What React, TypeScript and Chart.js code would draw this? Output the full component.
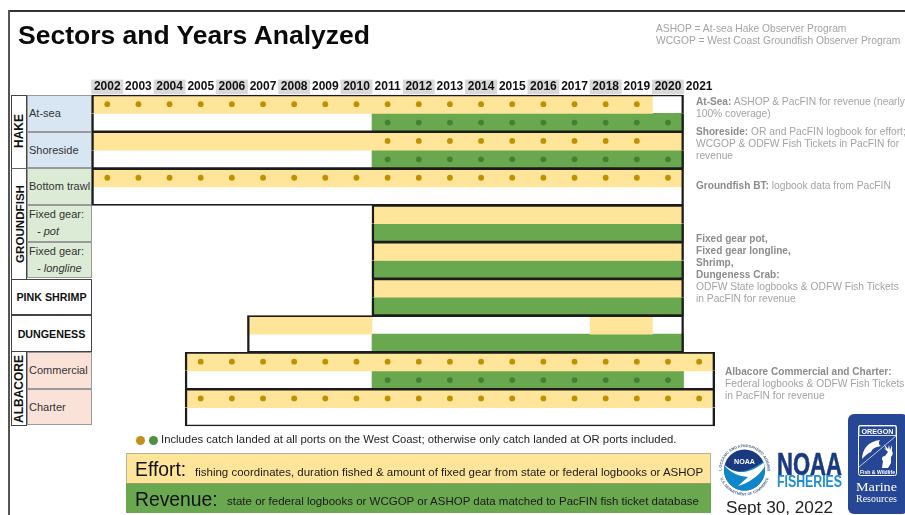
import React, { useEffect, useRef } from "react";
import { Chart, registerables } from "chart.js";

Chart.register(...registerables);

type Span = [number, number] | null;

const years = [2002, 2003, 2004, 2005, 2006, 2007, 2008, 2009, 2010, 2011, 2012, 2013, 2014, 2015, 2016, 2017, 2018, 2019, 2020, 2021];
const allRows = ["At-sea", "Shoreside", "Bottom trawl", "Fixed gear pot", "Fixed gear longline", "Pink shrimp", "Dungeness", "Commercial", "Charter"];

// [first year edge, last year edge), per fishery
const effortSpans: Span[] = [[2002, 2020], [2002, 2021], [2002, 2021], [2011, 2021], [2011, 2021], [2011, 2021], [2007, 2011], [2005, 2022], [2005, 2022]];
const effortExtra: Span[] = [null, null, null, null, null, null, [2018, 2020], null, null];
const revenueSpans: Span[] = [[2011, 2021], [2011, 2021], null, [2011, 2021], [2011, 2021], [2011, 2021], [2011, 2021], [2011, 2021], null];
const boxSpans: Span[] = [[2002, 2021], [2002, 2021], [2002, 2021], [2011, 2021], [2011, 2021], [2011, 2021], [2007, 2021], [2005, 2022], [2005, 2022]];
// first and last year carrying an "all ports" dot
const effortDots: Span[] = [[2002, 2019], [2011, 2019], [2002, 2020], null, null, null, null, [2005, 2021], [2005, 2021]];
const revenueDots: Span[] = [[2011, 2020], [2011, 2020], null, null, null, null, null, [2011, 2020], null];

const bands = allRows.flatMap((r) => [r + " effort", r + " revenue"]);

const YELLOW = "#ffe599";
const GREEN = "#6aa84f";
const DOT_Y = "#bf9000";
const DOT_G = "#457f32";
const LINE = "#1c1c1c";

const HEADER_H = 95;
const PLOT_LEFT = 91.7;
const PLOT_RIGHT = 714.7;
const PLOT_BOTTOM = 426;

function bandValues(spans: Span[], offset: number) {
  const out: Span[] = bands.map(() => null);
  spans.forEach((s, i) => {
    out[i * 2 + offset] = s;
  });
  return out;
}

function dotPoints(spans: Span[], offset: number) {
  const pts: { x: number; y: string }[] = [];
  spans.forEach((s, i) => {
    if (!s) return;
    years.filter((yr) => yr >= s[0] && yr <= s[1]).forEach((yr) => pts.push({ x: yr + 0.5, y: bands[i * 2 + offset] }));
  });
  return pts;
}

const FONT = '"Liberation Sans", Arial, sans-serif';

function T(props: { x: number; y: number; size?: number; color?: string; w?: number; children: React.ReactNode; style?: React.CSSProperties }) {
  const { x, y, size = 10.25, color = "#a3a3a3", w, children, style } = props;
  return (
    <div
      style={{
        position: "absolute",
        left: x,
        top: y - size * 0.6,
        fontSize: size,
        lineHeight: `${size * 1.2}px`,
        color,
        whiteSpace: "nowrap",
        width: w,
        ...style,
      }}
    >
      {children}
    </div>
  );
}

const B = (p: { children: React.ReactNode }) => <b style={{ color: "#8c8c8c", fontSize: 10.1 }}>{p.children}</b>;

function Cell(p: { x: number; y: number; w: number; h: number; bg: string; border?: string; children?: React.ReactNode }) {
  return (
    <div
      style={{
        position: "absolute",
        left: p.x,
        top: p.y,
        width: p.w,
        height: p.h,
        background: p.bg,
        boxSizing: "border-box",
        border: `1px solid ${p.border ?? "#9a9a9a"}`,
      }}
    >
      {p.children}
    </div>
  );
}

function Vert(p: { y: number; h: number; text: string; size?: number }) {
  return (
    <div
      style={{
        position: "absolute",
        left: 11,
        top: p.y,
        width: 16,
        height: p.h,
        display: "flex",
        alignItems: "center",
        justifyContent: "center",
      }}
    >
      <span style={{ writingMode: "vertical-rl", transform: "rotate(180deg)", fontWeight: 700, fontSize: p.size ?? 12, color: "#111" }}>{p.text}</span>
    </div>
  );
}

function Logos() {
  return (
    <svg width={905} height={515} style={{ position: "absolute", left: 0, top: 0 }} fontFamily={FONT}>
      <defs>
        <path id="ringTop" d="M 721.5 470 A 23 23 0 0 1 767.5 470" />
        <path id="ringBottom" d="M 719 470 A 25.5 25.5 0 0 0 770 470" />
        <clipPath id="inner">
          <circle cx={744.5} cy={470} r={20.5} />
        </clipPath>
      </defs>
      <text fontSize={3.7} fill="#47618f" fontWeight={700}>
        <textPath href="#ringTop" startOffset="50%" textAnchor="middle">NATIONAL OCEANIC AND ATMOSPHERIC ADMINISTRATION</textPath>
      </text>
      <text fontSize={3.7} fill="#47618f" fontWeight={700}>
        <textPath href="#ringBottom" startOffset="50%" textAnchor="middle">U.S. DEPARTMENT OF COMMERCE</textPath>
      </text>
      <circle cx={744.5} cy={470} r={20.5} fill="#1a3a80" />
      <g clipPath="url(#inner)">
        <path d="M 722 462 C 732 474 745 476 768 458 L 768 492 L 722 492 Z" fill="#0f86c9" />
        <path d="M 722 462 C 732 474 748 478 769 458 C 764 472 752 482 738 486 L 748 477 C 738 476 728 472 722 462 Z" fill="#ffffff" />
      </g>
      <text x={744.5} y={464} textAnchor="middle" fontSize={8} fontWeight={700} fill="#fff" textLength={21} lengthAdjust="spacingAndGlyphs">NOAA</text>
      <text x={777} y={475} fontSize={32} fontWeight={700} fill="#1a3a80" stroke="#1a3a80" strokeWidth={0.6} textLength={65} lengthAdjust="spacingAndGlyphs">NOAA</text>
      <text x={777} y={487} fontSize={16} fontWeight={700} fill="#1d8fd1" textLength={65} lengthAdjust="spacingAndGlyphs">FISHERIES</text>

      <rect x={848} y={414} width={60} height={100} rx={6} fill="#264796" />
      <rect x={858.5} y={425.5} width={38} height={50} rx={2} fill="none" stroke="#fff" strokeWidth={1} />
      <rect x={859} y={426} width={37} height={9.5} fill="none" stroke="#fff" strokeWidth={0.8} />
      <text x={877.5} y={434} textAnchor="middle" fontSize={8} fontWeight={700} fill="#fff" textLength={32} lengthAdjust="spacingAndGlyphs">OREGON</text>
      <line x1={859} y1={467} x2={896} y2={436} stroke="#fff" strokeWidth={0.7} />
      <path d="M 862 459 C 862 450 868 441 880 440 C 878 443 879 445 881 446 C 875 447 872 449 871 452 C 868 453 865 456 862 459 Z" fill="#fff" />
      <path d="M 882 468 L 883 461 C 881 459 882 456 885 456 L 888 452 L 884 448 L 886 449 L 884 444 L 888 449 L 889 445 L 890 450 L 892 445 L 892 451 C 893 453 893 455 891 457 L 891 463 L 888 468 Z" fill="#fff" />
      <text x={877.5} y={474} textAnchor="middle" fontSize={5.6} fontWeight={700} fill="#fff" textLength={35} lengthAdjust="spacingAndGlyphs">Fish &amp; Wildlife</text>
      <text x={876.5} y={491} textAnchor="middle" fontSize={13} fill="#fff" fontFamily='"Liberation Serif", serif' textLength={41} lengthAdjust="spacingAndGlyphs">Marine</text>
      <text x={876.5} y={502} textAnchor="middle" fontSize={9.5} fill="#fff" fontFamily='"Liberation Serif", serif' textLength={41} lengthAdjust="spacingAndGlyphs">Resources</text>
    </svg>
  );
}

export default function App() {
  const ref = useRef<HTMLCanvasElement>(null);

  useEffect(() => {
    const canvas = ref.current;
    if (!canvas) return;
    const fill = { grouped: false, categoryPercentage: 1, barPercentage: 1, borderWidth: 0, order: 3 };
    const chart = new Chart(canvas, {
      type: "bar",
      data: {
        labels: bands,
        datasets: [
          { ...fill, label: "Effort", data: bandValues(effortSpans, 0), backgroundColor: YELLOW },
          { ...fill, label: "Effort (later years)", data: bandValues(effortExtra, 0), backgroundColor: YELLOW },
          { ...fill, label: "Revenue", data: bandValues(revenueSpans, 1), backgroundColor: GREEN },
          {
            grouped: false,
            categoryPercentage: 1,
            barPercentage: 1,
            order: 2,
            label: "Sector box",
            data: bands.map((_, i) => boxSpans[Math.floor(i / 2)]),
            backgroundColor: "rgba(0,0,0,0)",
            borderColor: LINE,
            borderSkipped: false,
            clip: false,
            borderWidth: (c: any) =>
              c.dataIndex % 2 === 0 ? { top: 1, left: 1.7, right: 1.7, bottom: 0 } : { top: 0, left: 1.7, right: 1.7, bottom: 1 },
          },
          {
            type: "scatter",
            indexAxis: "x",
            order: 1,
            label: "All ports (effort)",
            data: dotPoints(effortDots, 0),
            backgroundColor: DOT_Y,
            borderWidth: 0,
            pointRadius: 2.9,
          },
          {
            type: "scatter",
            indexAxis: "x",
            order: 1,
            label: "All ports (revenue)",
            data: dotPoints(revenueDots, 1),
            backgroundColor: DOT_G,
            borderWidth: 0,
            pointRadius: 2.9,
          },
        ] as any,
      },
      options: {
        indexAxis: "y",
        responsive: false,
        animation: false,
        events: [],
        layout: { padding: { left: PLOT_LEFT, right: 905 - PLOT_RIGHT, top: 0, bottom: 515 - PLOT_BOTTOM } },
        plugins: { legend: { display: false }, tooltip: { enabled: false }, title: { display: false } },
        scales: {
          x: {
            type: "linear",
            position: "top",
            min: 2002,
            max: 2022,
            grid: { display: false, drawTicks: false },
            border: { display: false },
            afterFit: (s: any) => {
              s.height = HEADER_H;
            },
            afterBuildTicks: (s: any) => {
              s.ticks = years.map((yr) => ({ value: yr + 0.5 }));
            },
            ticks: {
              autoSkip: false,
              maxRotation: 0,
              padding: 1,
              color: "#111",
              font: { family: FONT, size: 12, weight: "bold" },
              callback: (v: any) => String(Math.floor(Number(v))),
              showLabelBackdrop: true,
              backdropPadding: { top: 0, bottom: 0, left: 2.6, right: 2.6 },
              backdropColor: (c: any) => (c.index % 2 === 0 && c.index < 19 ? "#d9d9d9" : "rgba(0,0,0,0)"),
            },
          },
          y: { type: "category", display: false, offset: true, grid: { display: false } },
        },
      } as any,
    });
    return () => chart.destroy();
  }, []);

  const blue = "#d8e6f3";
  const green = "#dcebd5";
  const pink = "#fbe2d9";
  const label = { color: "#333", size: 11 };
  const rowTop = [95, 131.7, 168.4, 205.1, 241.8, 278.5, 315.2, 351.9, 388.6];
  const h = 36.7;
  const narrow: React.CSSProperties = { transform: "scaleX(0.92)", transformOrigin: "left center" };

  return (
    <div
      style={{
        position: "absolute",
        left: 0,
        top: 0,
        width: 905,
        height: 515,
        overflow: "hidden",
        background: "#fff",
        fontFamily: FONT,
        filter: "blur(0.35px)",
      }}
    >
      {/* page frame */}
      <div style={{ position: "absolute", left: 8, top: 10, width: 897, height: 2, background: "#333" }} />
      <div style={{ position: "absolute", left: 7.5, top: 10, width: 2, height: 505, background: "#555" }} />

      {/* row header cells */}
      <Cell x={11} y={95} w={16} h={331} bg="#fff" border="#444" />
      {rowTop.slice(0, 2).map((y) => <Cell key={y} x={27} y={y} w={65} h={h} bg={blue} />)}
      {rowTop.slice(2, 5).map((y) => <Cell key={y} x={27} y={y} w={65} h={h} bg={green} />)}
      {rowTop.slice(7, 9).map((y) => <Cell key={y} x={27} y={y} w={65} h={h} bg={pink} />)}
      <Cell x={11} y={278.5} w={81} h={h} bg="#fff" border="#444" />
      <Cell x={11} y={315.2} w={81} h={h} bg="#fff" border="#444" />
      <div style={{ position: "absolute", left: 11, top: 168, width: 16, height: 1, background: "#666" }} />

      <Vert y={95} h={73} text="HAKE" />
      <Vert y={168} h={111} text="GROUNDFISH" size={11.6} />
      <Vert y={352} h={74} text="ALBACORE" />

      <T x={29} y={113.5} {...label}>At-sea</T>
      <T x={29} y={150.5} {...label}>Shoreside</T>
      <T x={29} y={187} {...label}>Bottom trawl</T>
      <T x={29} y={215} {...label}>Fixed gear:</T>
      <T x={37} y={232} {...label} style={{ fontStyle: "italic" }}>- pot</T>
      <T x={29} y={252} {...label}>Fixed gear:</T>
      <T x={37} y={269} {...label} style={{ fontStyle: "italic" }}>- longline</T>
      <T x={11} y={297} size={10.7} color="#111" w={81} style={{ textAlign: "center", fontWeight: 700 }}>PINK SHRIMP</T>
      <T x={11} y={334} size={10.7} color="#111" w={81} style={{ textAlign: "center", fontWeight: 700 }}>DUNGENESS</T>
      <T x={29} y={371} {...label}>Commercial</T>
      <T x={29} y={407.5} {...label}>Charter</T>

      <canvas ref={ref} width={905} height={515} style={{ position: "absolute", left: 0, top: 0, display: "block" }} />

      {/* title and notes */}
      <T x={18} y={36} size={26.5} color="#0a0a0a" style={{ fontWeight: 700 }}>Sectors and Years Analyzed</T>
      <T x={656} y={29}>ASHOP = At-sea Hake Observer Program</T>
      <T x={656} y={41.5}>WCGOP = West Coast Groundfish Observer Program</T>

      <T x={696} y={102}><B>At-Sea:</B> ASHOP &amp; PacFIN for revenue (nearly</T>
      <T x={696} y={114}>100% coverage)</T>
      <T x={696} y={132}><B>Shoreside:</B> OR and PacFIN logbook for effort;</T>
      <T x={696} y={144}>WCGOP &amp; ODFW Fish Tickets in PacFIN for</T>
      <T x={696} y={156}>revenue</T>
      <T x={696} y={186}><B>Groundfish BT:</B> logbook data from PacFIN</T>
      <T x={696} y={238.7}><B>Fixed gear pot,</B></T>
      <T x={696} y={250.7}><B>Fixed gear longline,</B></T>
      <T x={696} y={262.7}><B>Shrimp,</B></T>
      <T x={696} y={274.7}><B>Dungeness Crab:</B></T>
      <T x={696} y={286.7}>ODFW State logbooks &amp; ODFW Fish Tickets</T>
      <T x={696} y={298.7}>in PacFIN for revenue</T>
      <T x={725} y={372}><B>Albacore Commercial and Charter:</B></T>
      <T x={725} y={384}>Federal logbooks &amp; ODFW Fish Tickets</T>
      <T x={725} y={396}>in PacFIN for revenue</T>

      {/* key */}
      <div style={{ position: "absolute", left: 135.5, top: 435.5, width: 9, height: 9, borderRadius: 5, background: "#c48f1a" }} />
      <div style={{ position: "absolute", left: 148.5, top: 435.5, width: 9, height: 9, borderRadius: 5, background: "#4f8f3f" }} />
      <T x={161} y={440} size={11.3} color="#222">Includes catch landed at all ports on the West Coast; otherwise only catch landed at OR ports included.</T>

      <div style={{ position: "absolute", left: 126, top: 453, width: 585, height: 30, background: YELLOW, boxSizing: "border-box", border: "1px solid #b5b5a0", borderBottom: "none" }} />
      <div style={{ position: "absolute", left: 126, top: 483, width: 585, height: 30, background: GREEN, boxSizing: "border-box", borderTop: "1px solid #9a9a70" }} />
      <T x={135} y={469} size={21} color="#111" style={narrow}>Effort:</T>
      <T x={195} y={473} size={11.5} color="#1a1a1a">fishing coordinates, duration fished &amp; amount of fixed gear from state or federal logbooks or ASHOP</T>
      <T x={135} y={499} size={21} color="#111" style={narrow}>Revenue:</T>
      <T x={227} y={502} size={11.5} color="#1a1a1a">state or federal logbooks or WCGOP or ASHOP data matched to PacFIN fish ticket database</T>

      <Logos />
      <T x={726} y={507} size={17.2} color="#222">Sept 30, 2022</T>
    </div>
  );
}
